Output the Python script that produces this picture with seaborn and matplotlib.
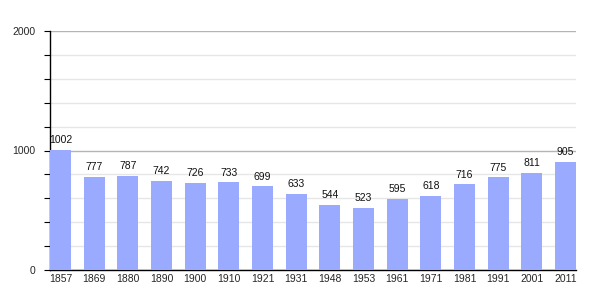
import matplotlib
matplotlib.use("Agg")
import matplotlib.pyplot as plt
import seaborn as sns
import pandas as pd
from matplotlib.ticker import MultipleLocator

years = ["1857", "1869", "1880", "1890", "1900", "1910", "1921", "1931",
         "1948", "1953", "1961", "1971", "1981", "1991", "2001", "2011"]
population = [1002, 777, 787, 742, 726, 733, 699, 633,
              544, 523, 595, 618, 716, 775, 811, 905]

df = pd.DataFrame({"year": years, "pop": population})

sns.set_style("white")
plt.rcParams['font.family'] = ['Liberation Sans', 'DejaVu Sans']

fig = plt.figure(figsize=(6.05, 3.0), dpi=100)
ax = fig.add_axes([50/605, 1-270/300, 526/605, 239/300])

w = 0.624
sns.barplot(data=df, x="year", y="pop", color="#99AAFF", saturation=1,
            width=w, ax=ax, zorder=3)
for p in ax.patches:
    p.set_edgecolor("none")

ax.bar_label(ax.containers[0], labels=[str(v) for v in population],
             fontsize=7.5, padding=3.5, color="#111111")

ax.set_ylim(0, 2000)
ax.set_xlim(-w/2, len(years) - 1 + w/2)
ax.yaxis.set_major_locator(MultipleLocator(1000))
ax.yaxis.set_minor_locator(MultipleLocator(200))
ax.grid(axis="y", which="minor", color="#e6e6e6", linewidth=1, zorder=0)
ax.grid(axis="y", which="major", color="#b4b4b4", linewidth=1, zorder=0)
ax.set_axisbelow(True)

ax.set_xlabel("")
ax.set_ylabel("")
for s in ["top", "right"]:
    ax.spines[s].set_visible(False)
ax.spines["left"].set_color("black")
ax.spines["bottom"].set_color("black")
ax.spines["left"].set_linewidth(1)
ax.spines["bottom"].set_linewidth(1)

ax.tick_params(axis="y", which="both", direction="out", length=4.3, width=0.8,
               color="black", left=True, labelsize=7.5, pad=6)
ax.tick_params(axis="x", which="both", length=0, labelsize=7.5, pad=3)

fig.savefig("out.png", dpi=100)
